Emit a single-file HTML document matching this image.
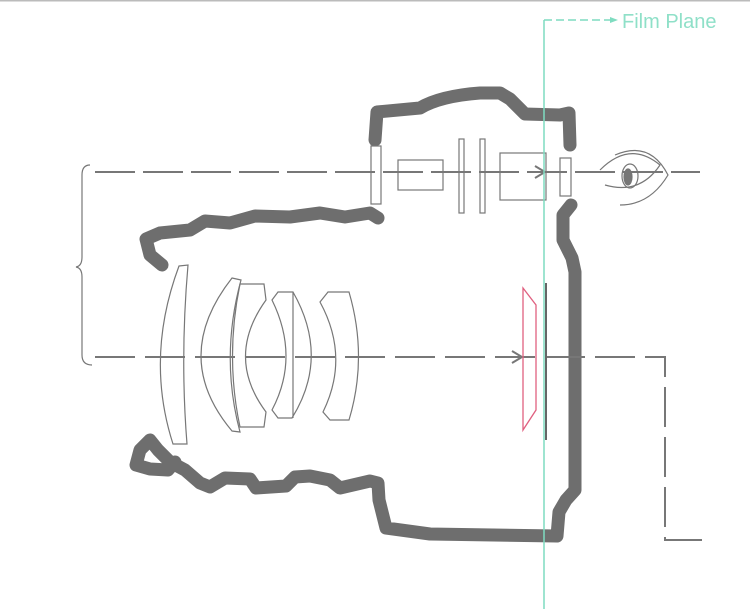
<!DOCTYPE html>
<html><head><style>body{margin:0;background:#fff}svg{display:block}</style></head><body>
<svg width="750" height="609" viewBox="0 0 750 609" xmlns="http://www.w3.org/2000/svg">
<rect x="0" y="0" width="750" height="1.5" fill="#bbb"/>
<g fill="none" stroke="#6e6e6e" stroke-width="13" stroke-linejoin="round" stroke-linecap="round">
<path d="M375,140 L377,112 L420,108 Q440,96 480,93 L500,93 L510,99 L525,114 L560,115 L569,113 L570,145"/>
<path d="M162,265 L150,255 L146,239 L160,233 L190,230 L205,221 L230,223 L255,216 L290,217 L320,213 L345,217 L370,213 L378,218"/>
<path d="M571,205 L563,215 L563,240 L572,258 L575,272 L575,490 L566,500 L559,512 L557,536 L430,534 L386,528 L379,500 L378,483 L370,481 L340,488 L330,480 L310,476 L295,477 L286,486 L256,488 L250,479 L225,478 L210,487 L200,483 L185,470 L170,462 L158,450 L150,440 L140,450 L136,465 L150,469 L168,470 L175,462"/>
</g>
<g fill="none" stroke="#777" stroke-width="1.2">
<rect x="371" y="146" width="10" height="58"/>
<rect x="398" y="160" width="45" height="30"/>
<rect x="459" y="139" width="5" height="74"/>
<rect x="480" y="139" width="5" height="74"/>
<rect x="500" y="153" width="46" height="47"/>
<rect x="560" y="158" width="11" height="38"/>
<path d="M90,165 Q82,165 82,175 L82,257 Q82,266 76,267 Q82,268 82,277 L82,355 Q82,365 92,365"/>
<path d="M179,266 L188,265 Q180,357 187,444 L173,444 Q145,357 179,266Z"/>
<path d="M232,278 L241,280 Q220,357 240,432 L232,431 Q170,357 232,278Z"/>
<path d="M240,284 L264,284 L266,300 Q225,357 266,412 L264,427 L240,427 Q225,357 240,284Z"/>
<path d="M272,300 L278,292 L293,292 Q330,357 292,418 L278,418 L272,410 Q300,357 272,300Z M293,292 L293,418"/>
<path d="M320,302 L328,292 L349,292 Q368,357 349,420 L330,420 L323,412 Q350,357 320,302Z"/>
</g>
<g stroke="#777" stroke-width="2" fill="none">
<path d="M95,172 H700" stroke-dasharray="40,8"/>
<path d="M95,357 H665 V540 H708" stroke-dasharray="40,10"/>
<path d="M535,166 L545,172 L535,178"/>
<path d="M512,351 L522,357 L512,363"/>
<line x1="546" y1="283" x2="546" y2="440" stroke="#666"/>
</g>
<g fill="none" stroke="#777" stroke-width="1.2">
<path d="M600,170 Q630,140 660,165 Q640,195 605,185"/>
<ellipse cx="630" cy="176" rx="8" ry="12"/>
<ellipse cx="628" cy="177" rx="4" ry="8" fill="#777"/>
<path d="M615,155 Q650,140 668,175 Q650,205 620,205"/>
</g>
<polygon points="523,288 536,305 536,410 523,430" fill="none" stroke="#e06080" stroke-width="1.3"/>
<g stroke="#7fdcc0" stroke-width="1.5" fill="none">
<line x1="544" y1="20" x2="544" y2="609"/>
<path d="M544,20 H612" stroke-dasharray="8,4"/>
</g>
<polygon points="610,17 618,20 610,23" fill="#7fdcc0"/>
<text x="622" y="28" font-family="Liberation Sans, sans-serif" font-size="20" fill="#8fe0c8">Film Plane</text>
</svg>
</body></html>
